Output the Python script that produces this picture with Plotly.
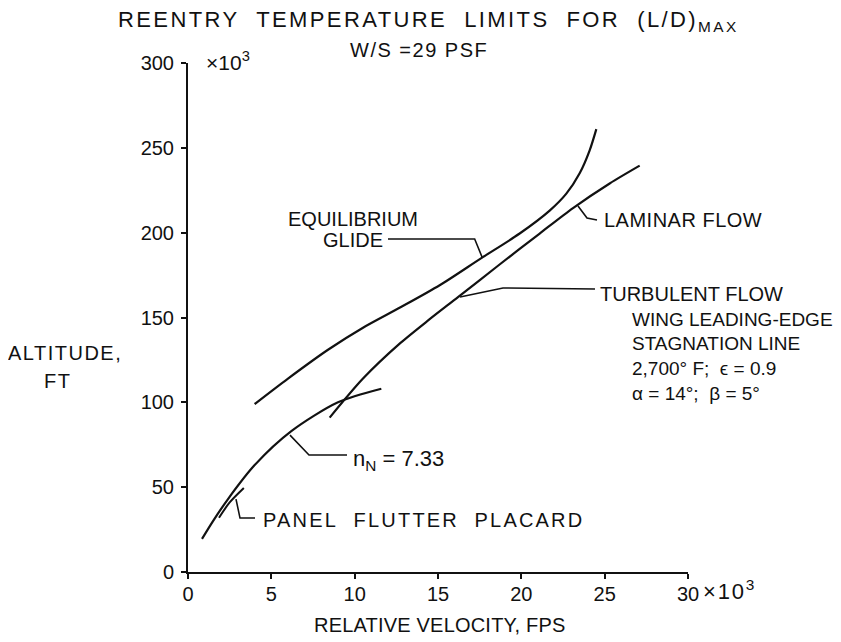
import plotly.graph_objects as go

# ---- data (velocity in 10^3 fps, altitude in 10^3 ft) ----
glide_v = [4.0, 6.0, 8.4, 10.5, 12.75, 15.1, 17.6, 19.9, 21.7, 22.7, 23.5, 24.1, 24.5]
glide_h = [99, 114, 131, 144, 156, 169, 185, 199.5, 213, 223, 235, 248.5, 261]

temp_v = [8.5, 10.5, 12.75, 14.5, 16.2, 18.6, 21.1, 23.1, 25.3, 27.1]
temp_h = [91, 114, 135, 149, 162, 180.5, 199.5, 214.5, 229, 239.5]

nn_v = [0.84, 1.5, 2.4, 4.0, 6.2, 9.0, 11.6]
nn_h = [19.5, 30, 43, 63, 83, 100, 108]

flutter_v = [1.86, 2.5, 3.35]
flutter_h = [32, 41, 49.5]

x_ticks = [0, 5, 10, 15, 20, 25, 30]
x_tick_text = ["0", "5", "10", "15", "20", "25", "30"]
y_ticks = [0, 50, 100, 150, 200, 250, 300]
y_tick_text = ["0", "50", "100", "150", "200", "250", "300"]

# leader lines (data units)
lead_glide_v = [12.0, 17.2, 17.64]
lead_glide_h = [196.3, 196.3, 185.7]
lead_lam_v = [23.4, 23.94, 24.54]
lead_lam_h = [215.7, 208.6, 207.5]
lead_turb_v = [16.32, 18.9, 24.42]
lead_turb_h = [162.1, 167.4, 166.8]
lead_nn_v = [6.12, 7.26, 9.54]
lead_nn_h = [80.7, 69, 69]
lead_fl_v = [2.88, 3.12, 4.02]
lead_fl_h = [43, 31.8, 31.8]

FONT = "Liberation Sans"
BLACK = "#111111"

fig = go.Figure()
for xs, ys, w in [(glide_v, glide_h, 2.2), (temp_v, temp_h, 2.2), (nn_v, nn_h, 2.2),
                  (flutter_v, flutter_h, 2.0)]:
    fig.add_trace(go.Scatter(x=xs, y=ys, mode="lines",
                             line=dict(color=BLACK, width=w, shape="spline", smoothing=0.8),
                             hoverinfo="skip", showlegend=False))
for xs, ys in [(lead_glide_v, lead_glide_h), (lead_lam_v, lead_lam_h),
               (lead_turb_v, lead_turb_h), (lead_nn_v, lead_nn_h), (lead_fl_v, lead_fl_h)]:
    fig.add_trace(go.Scatter(x=xs, y=ys, mode="lines",
                             line=dict(color=BLACK, width=1.6),
                             hoverinfo="skip", showlegend=False))

OFF = 8  # page body margin
W, H = 841 - OFF, 642 - OFF
L, R, T, B = 188 - OFF, 688 - OFF, 63 - OFF, 572 - OFF


def px(x, y):
    x -= OFF
    y -= OFF
    return (x - L) / (R - L), (B - y) / (B - T)


def note(text, x, y, size=20, xanchor="left", yanchor="middle", align="left", ls=None):
    xp, yp = px(x, y)
    if ls is not None:
        text = '<span style="letter-spacing:%spx">%s</span>' % (ls, text)
    fig.add_annotation(text=text, x=xp, y=yp, xref="paper", yref="paper",
                       xanchor=xanchor, yanchor=yanchor, align=align, showarrow=False,
                       font=dict(family=FONT, size=size, color=BLACK))


note("REENTRY&nbsp; TEMPERATURE&nbsp; LIMITS&nbsp; FOR&nbsp; (L/D)<sub>MAX</sub>", 428, 21,
     size=22, xanchor="center", ls=2.4)
note("W/S =29 PSF", 348, 50, size=20, ls=1.5)
note("×10<sup>3</sup>", 204, 61, size=21)
note("×10<sup>3</sup>", 701, 590, size=22, ls=1.8)
note("ALTITUDE,", 65, 353, size=20, xanchor="center", ls=1.5)
note("FT", 57, 381, size=20, xanchor="center", ls=1.5)
note("RELATIVE VELOCITY, FPS", 440, 625, size=20, xanchor="center", ls=0.2)
note("EQUILIBRIUM", 353, 219, size=20, xanchor="center")
note("GLIDE", 353, 240, size=20, xanchor="center")
note("LAMINAR FLOW", 602, 220, size=20, ls=0.5)
note("TURBULENT FLOW", 598, 294, size=20)
note("WING LEADING-EDGE", 630, 319, size=19)
note("STAGNATION LINE", 630, 344, size=19)
note("2,700° F;&nbsp; ϵ = 0.9", 630, 368, size=19)
note("α = 14°;&nbsp; β = 5°", 630, 393, size=19)
note("n<sub>N</sub> = 7.33", 351, 460, size=22)
note("PANEL&nbsp; FLUTTER&nbsp; PLACARD", 261, 520, size=20, ls=2.2)

fig.update_layout(
    width=W, height=H,
    margin=dict(l=L, r=W - R, t=T, b=H - B, pad=0),
    paper_bgcolor="white", plot_bgcolor="white",
    font=dict(family=FONT, size=20, color=BLACK),
    xaxis=dict(range=[0, 30], tickvals=x_ticks, ticktext=x_tick_text,
               showgrid=False, zeroline=False, showline=True, linecolor=BLACK,
               linewidth=2, ticks="outside", ticklen=5, tickwidth=2, tickcolor=BLACK,
               tickfont=dict(size=20), ticklabelstandoff=-2),
    yaxis=dict(range=[0, 300], tickvals=y_ticks, ticktext=y_tick_text,
               showgrid=False, zeroline=False, showline=True, linecolor=BLACK,
               linewidth=2, ticks="outside", ticklen=5, tickwidth=2, tickcolor=BLACK,
               tickfont=dict(size=20), ticklabelstandoff=3),
)

fig.write_html("out.html")
